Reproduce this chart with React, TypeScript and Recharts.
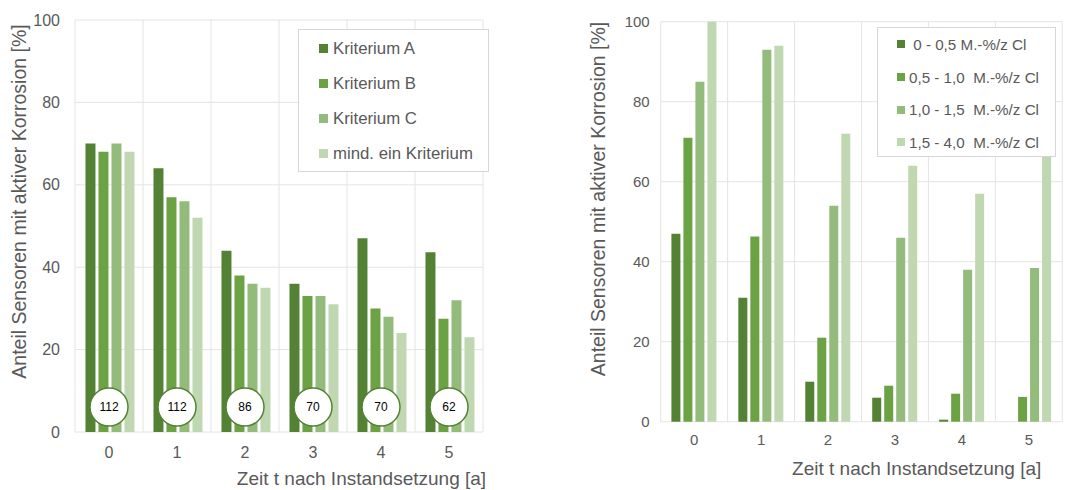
import React from 'react';
import {
  ComposedChart,
  Bar,
  Scatter,
  XAxis,
  YAxis,
  CartesianGrid,
} from 'recharts';

const categories = ['0', '1', '2', '3', '4', '5'];

const kriteriumA = [70, 64, 44, 36, 47, 43.6];
const kriteriumB = [68, 57, 38, 33, 30, 27.5];
const kriteriumC = [70, 56, 36, 33, 28, 32];
const mindEinKriterium = [68, 52, 35, 31, 24, 23];
const sampleCounts = [112, 112, 86, 70, 70, 62];

const chlor05 = [47, 31, 10, 6, 0.5, 0];
const chlor10 = [71, 46.3, 21, 9, 7, 6.2];
const chlor15 = [85, 93, 54, 46, 38, 38.4];
const chlor40 = [100, 94, 72, 64, 57, 69];

const yTicks = [0, 20, 40, 60, 80, 100];

const leftNames = ['Kriterium A', 'Kriterium B', 'Kriterium C', 'mind. ein Kriterium'];
const rightNames = [
  ' 0 - 0,5 M.-%/z Cl',
  '0,5 - 1,0  M.-%/z Cl',
  '1,0 - 1,5  M.-%/z Cl',
  '1,5 - 4,0  M.-%/z Cl',
];

const yLabel = 'Anteil Sensoren mit aktiver Korrosion [%]';
const xLabel = 'Zeit t nach Instandsetzung [a]';

const COLORS = ['#548235', '#6ba243', '#93bb7b', '#c0d8b2'];
const FONT = '"Liberation Sans", Arial, Helvetica, sans-serif';
const TEXT = '#595959';
const GRID = '#e4e4e4';

const leftData = categories.map((c, i) => ({
  t: c,
  a: kriteriumA[i],
  b: kriteriumB[i],
  c: kriteriumC[i],
  d: mindEinKriterium[i],
  n: sampleCounts[i],
}));

const rightData = categories.map((c, i) => ({
  t: c,
  a: chlor05[i],
  b: chlor10[i],
  c: chlor15[i],
  d: chlor40[i],
}));

const gridGen = ({ offset }: any) => {
  const pts: number[] = [];
  for (let i = 0; i <= categories.length; i++) {
    pts.push(offset.left + (i * offset.width) / categories.length);
  }
  return pts;
};

const LegendBox = (opts: {
  names: string[];
  left: number;
  top: number;
  width: number;
  height: number;
  itemH: number;
  padTop: number;
  padLeft: number;
  marker: number;
  gap: number;
  fontSize: number;
}) => (
  <div
    style={{
      position: 'absolute',
      left: opts.left,
      top: opts.top,
      width: opts.width,
      height: opts.height,
      boxSizing: 'border-box',
      border: '1px solid #d6d6d6',
      background: '#fff',
      paddingTop: opts.padTop,
      paddingLeft: opts.padLeft,
      fontFamily: FONT,
      fontSize: opts.fontSize,
      color: TEXT,
    }}
  >
    {opts.names.map((name, i) => (
      <div
        key={i}
        style={{ height: opts.itemH, display: 'flex', alignItems: 'center', whiteSpace: 'pre' }}
      >
        <span
          style={{
            display: 'inline-block',
            width: opts.marker,
            height: opts.marker,
            background: COLORS[i],
            marginRight: opts.gap,
          }}
        />
        <span>{name}</span>
      </div>
    ))}
  </div>
);

const CountCircle = (props: any) => {
  const { cx, cy, payload } = props;
  if (cx == null || cy == null) return null;
  const y = cy - 25;
  return (
    <g>
      <circle cx={cx} cy={y} r={19} fill="#fff" stroke="#548235" strokeWidth={1.5} />
      <text
        x={cx}
        y={y}
        textAnchor="middle"
        dominantBaseline="central"
        fontFamily={FONT}
        fontSize={12}
        fill="#000"
      >
        {payload.n}
      </text>
    </g>
  );
};

const YLabel = (x: number, y: number) => () => (
  <text
    x={x}
    y={y}
    transform={`rotate(-90 ${x} ${y})`}
    textAnchor="middle"
    dominantBaseline="central"
    fontFamily={FONT}
    fontSize={19.5}
    fill={TEXT}
  >
    {yLabel}
  </text>
);

const XLabel = (x: number, y: number) => () => (
  <text x={x} y={y} textAnchor="middle" fontFamily={FONT} fontSize={19} fill={TEXT}>
    {xLabel}
  </text>
);

export default function App() {
  const keys = ['a', 'b', 'c', 'd'];
  return (
    <div
      style={{
        position: 'absolute',
        left: 0,
        top: 0,
        width: 1079,
        height: 490,
        background: '#fff',
        overflow: 'hidden',
      }}
    >
      <div style={{ position: 'absolute', left: 0, top: 0, width: 540, height: 490 }}>
        <ComposedChart
          width={540}
          height={490}
          data={leftData}
          margin={{ top: 20, right: 57, bottom: 0, left: 0 }}
          barCategoryGap="15.4%"
          barGap={3}
        >
          <CartesianGrid stroke={GRID} verticalCoordinatesGenerator={gridGen} />
          <XAxis
            dataKey="t"
            height={58}
            axisLine={false}
            tickLine={false}
            tickMargin={9}
            tick={{ fill: TEXT, fontSize: 16, fontFamily: FONT }}
            label={{ content: XLabel(361.5, 485) } as any}
          />
          <YAxis
            width={75}
            domain={[0, 100]}
            ticks={yTicks}
            axisLine={false}
            tickLine={false}
            tickMargin={9}
            tick={{ fill: TEXT, fontSize: 16, fontFamily: FONT }}
            label={{ content: YLabel(18.5, 201.5) } as any}
          />
          {keys.map((k, i) => (
            <Bar
              key={k}
              dataKey={k}
              name={leftNames[i]}
              fill={COLORS[i]}
              isAnimationActive={false}
            />
          ))}
          <Scatter
            dataKey={() => 0}
            legendType="none"
            shape={CountCircle}
            isAnimationActive={false}
          />
        </ComposedChart>
        {LegendBox({
          names: leftNames,
          left: 298,
          top: 29,
          width: 191,
          height: 143,
          itemH: 35,
          padTop: 1,
          padLeft: 20,
          marker: 9,
          gap: 5,
          fontSize: 16.8,
        })}
      </div>
      <div style={{ position: 'absolute', left: 540, top: 0, width: 539, height: 490 }}>
        <ComposedChart
          width={539}
          height={490}
          data={rightData}
          margin={{ top: 21.7, right: 16.7, bottom: 0, left: 0 }}
          barCategoryGap="16%"
          barGap={3}
        >
          <CartesianGrid stroke={GRID} verticalCoordinatesGenerator={gridGen} />
          <XAxis
            dataKey="t"
            height={68.3}
            axisLine={false}
            tickLine={false}
            tickMargin={7}
            tick={{ fill: TEXT, fontSize: 15, fontFamily: FONT }}
            label={{ content: XLabel(376.7, 475) } as any}
          />
          <YAxis
            width={120.7}
            domain={[0, 100]}
            ticks={yTicks}
            axisLine={false}
            tickLine={false}
            tickMargin={5}
            tick={{ fill: TEXT, fontSize: 15, fontFamily: FONT }}
            label={{ content: YLabel(58, 199) } as any}
          />
          {keys.map((k, i) => (
            <Bar
              key={k}
              dataKey={k}
              name={rightNames[i]}
              fill={COLORS[i]}
              isAnimationActive={false}
            />
          ))}
        </ComposedChart>
        {LegendBox({
          names: rightNames,
          left: 337,
          top: 27,
          width: 179,
          height: 130,
          itemH: 32.7,
          padTop: 0,
          padLeft: 19,
          marker: 8,
          gap: 4,
          fontSize: 15.2,
        })}
      </div>
    </div>
  );
}
